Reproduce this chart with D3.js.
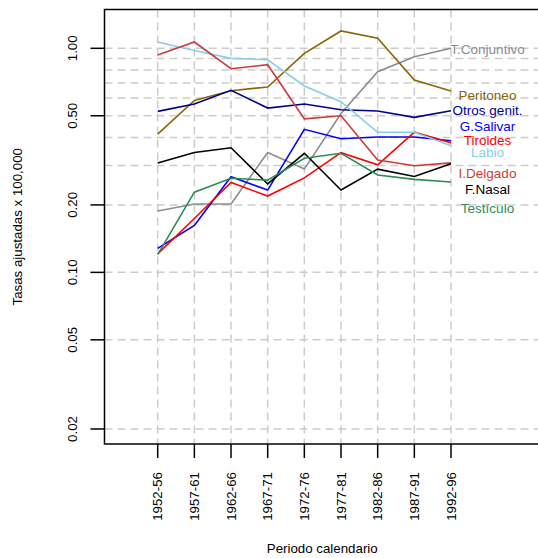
<!DOCTYPE html>
<html><head><meta charset="utf-8">
<script src="https://cdn.jsdelivr.net/npm/d3@7"></script>
<style>body{margin:0;background:#fff}svg{display:block}text{font-family:"Liberation Sans",Arial,sans-serif}</style>
</head><body><svg id="c" width="538" height="558"></svg>
<script>
const periods = ["1952-56","1957-61","1962-66","1967-71","1972-76","1977-81","1982-86","1987-91","1992-96"];
const yTicks = [0.02,0.05,0.10,0.20,0.50,1.00];
const yGrid = [0.02,0.05,0.1,0.2,0.3,0.4,0.5,0.6,0.7,0.8,0.9,1.0];
const seriesNames = ["T.Conjuntivo","Peritoneo","Otros genit.","G.Salivar","Tiroides","Labio","I.Delgado","F.Nasal","Testículo"];
const seriesColors = ["#8c8c8c","#8b6508","#00008b","#0000ff","#ff0000","#87ceeb","#cd3b3b","#000000","#2e8b57"];
const tConjuntivo = [0.188,0.202,0.202,0.343,0.289,0.512,0.786,0.917,1.00];
const peritoneo   = [0.414,0.585,0.647,0.672,0.950,1.195,1.108,0.722,0.645];
const otrosGenit  = [0.523,0.564,0.649,0.541,0.564,0.532,0.525,0.492,0.526];
const gSalivar    = [0.128,0.162,0.267,0.233,0.435,0.395,0.402,0.402,0.387];
const tiroides    = [0.121,0.174,0.252,0.219,0.264,0.342,0.302,0.422,0.379];
const labio       = [1.067,0.978,0.902,0.889,0.679,0.578,0.422,0.422,0.367];
const iDelgado    = [0.934,1.067,0.811,0.845,0.484,0.500,0.317,0.299,0.308];
const fNasal      = [0.308,0.343,0.360,0.248,0.340,0.233,0.289,0.268,0.305];
const testiculo   = [0.120,0.228,0.263,0.258,0.323,0.340,0.272,0.260,0.253];
const seriesValues = [tConjuntivo,peritoneo,otrosGenit,gSalivar,tiroides,labio,iDelgado,fNasal,testiculo];
// label anchor values (in data units, log axis)
const labelValues = [0.990,0.614,0.530,0.447,0.390,0.343,0.277,0.235,0.193];

const svg = d3.select("#c");
const L = 104.5, R = 540, T = 9.5, B = 444;
const x = d3.scaleLinear().domain([1,9]).range([157.7,451]);
const y = d3.scaleLog().domain([0.01714,1.49]).range([B,T]);

// grid
const g = svg.append("g");
g.selectAll("line.h").data(yGrid).join("line")
  .attr("x1",L).attr("x2",R).attr("y1",d=>y(d)).attr("y2",d=>y(d))
  .attr("stroke","#cccccc").attr("stroke-width",1.5).attr("stroke-dasharray","8,5");
g.selectAll("line.v").data(periods).join("line")
  .attr("x1",(d,i)=>x(i+1)).attr("x2",(d,i)=>x(i+1)).attr("y1",T).attr("y2",B)
  .attr("stroke","#cccccc").attr("stroke-width",1.5).attr("stroke-dasharray","8,5");

// lines
const line = d3.line().x((d,i)=>x(i+1)).y(d=>y(d));
seriesValues.forEach((vals,k)=>{
  svg.append("path").attr("d",line(vals)).attr("fill","none")
    .attr("stroke",seriesColors[k]).attr("stroke-width",1.6);
});

// labels
seriesNames.forEach((n,k)=>{
  svg.append("text").attr("x",487.5).attr("y",y(labelValues[k])).attr("dy","0.35em")
    .attr("text-anchor","middle").attr("font-size",13.5).attr("fill",seriesColors[k]).text(n);
});

// box
svg.append("rect").attr("x",L).attr("y",T).attr("width",R-L).attr("height",B-T)
  .attr("fill","none").attr("stroke","#000").attr("stroke-width",1.5);

// y axis
const ya = svg.append("g");
yTicks.forEach(t=>{
  ya.append("line").attr("x1",L-14).attr("x2",L).attr("y1",y(t)).attr("y2",y(t)).attr("stroke","#000").attr("stroke-width",1.5);
  ya.append("text").attr("transform",`translate(72,${y(t)}) rotate(-90)`).attr("text-anchor","middle")
    .attr("dy","0.35em").attr("font-size",13.3).text(d3.format(".2f")(t));
});
// x axis
periods.forEach((p,i)=>{
  svg.append("line").attr("x1",x(i+1)).attr("x2",x(i+1)).attr("y1",B).attr("y2",B+14).attr("stroke","#000").attr("stroke-width",1.5);
  svg.append("text").attr("transform",`translate(${x(i+1)},472) rotate(-90)`).attr("text-anchor","end")
    .attr("dy","0.35em").attr("font-size",13.3).text(p);
});
svg.append("text").attr("x",(L+R)/2).attr("y",548).attr("dy","0.35em").attr("text-anchor","middle").attr("font-size",13.3).text("Periodo calendario");
svg.append("text").attr("transform",`translate(17,${(T+B)/2}) rotate(-90)`).attr("text-anchor","middle").attr("dy","0.35em").attr("font-size",13.3).text("Tasas ajustadas x 100,000");
</script></body></html>
